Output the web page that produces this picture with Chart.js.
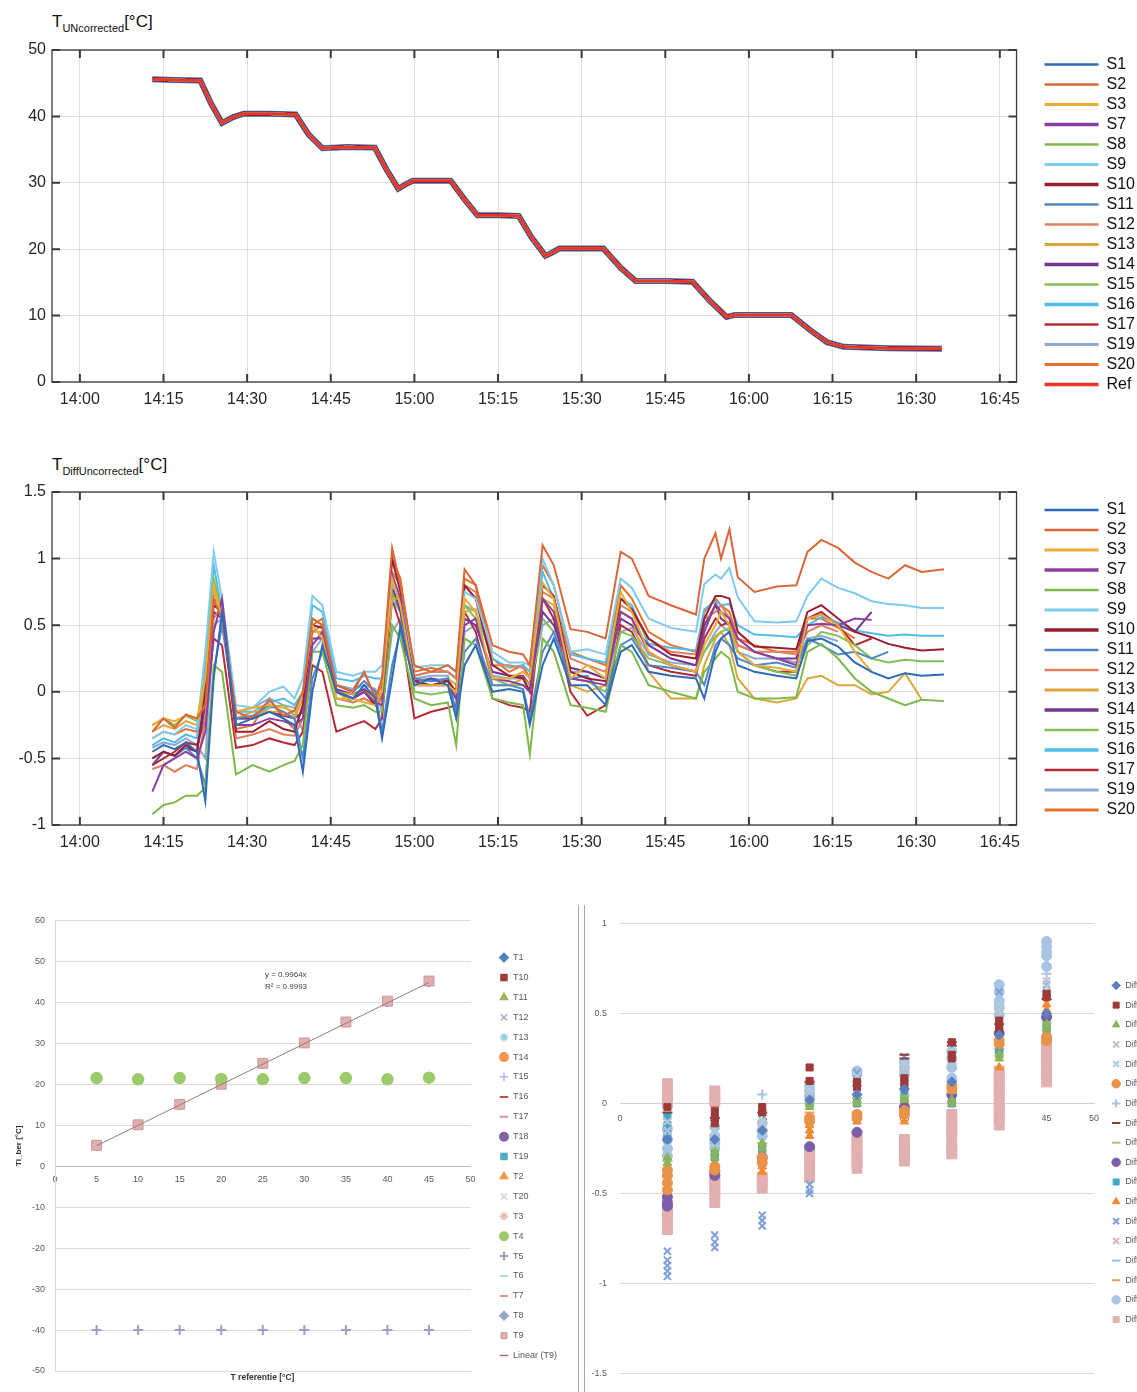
<!DOCTYPE html>
<html>
<head>
<meta charset="utf-8">
<title>Sensor calibration</title>
<script src="https://cdn.jsdelivr.net/npm/chart.js@4.4.1/dist/chart.umd.min.js"></script>
<style>
  html, body { margin: 0; padding: 0; background: #fff; }
  body { width: 1137px; height: 1392px; overflow: hidden; position: relative; font-family: "Liberation Sans", Arial, sans-serif; }
  canvas { position: absolute; }
  .ttl { position: absolute; font-size: 17px; color: #111; white-space: nowrap; line-height: 20px; }
  .ttl sub { font-size: 11px; vertical-align: -5px; line-height: 0; }
  .sep { position: absolute; top: 905px; width: 1px; height: 487px; background: #a8a8a8; }
  .note { position: absolute; font-size: 8px; color: #404040; line-height: 12px; white-space: nowrap; }
  .axt { position: absolute; font-size: 8.5px; font-weight: bold; color: #333; text-align: center; }
</style>
</head>
<body>
<div class="ttl" style="left:52px;top:12px">T<sub>UNcorrected</sub>[°C]</div>
<canvas id="tempChart" width="1137" height="420" style="left:0;top:0"></canvas>
<div class="ttl" style="left:52px;top:455px">T<sub>DiffUncorrected</sub>[°C]</div>
<canvas id="diffChart" width="1137" height="420" style="left:0;top:440px"></canvas>
<canvas id="calChart" width="578" height="487" style="left:0;top:905px"></canvas>
<div class="sep" style="left:578px"></div>
<div class="sep" style="left:584px"></div>
<canvas id="devChart" width="576" height="487" style="left:588px;top:905px"></canvas>
<div class="note" style="left:265px;top:969px">y = 0.9964x<br>R² = 0.9993</div>
<div class="axt" style="left:195px;top:1372px;width:135px">T referentie [°C]</div>

<script>
// time axis (minutes after 14:00)
const timeTickValues = [0, 15, 30, 45, 60, 75, 90, 105, 120, 135, 150, 165];
const timeTickLabels = ['14:00', '14:15', '14:30', '14:45', '15:00', '15:15', '15:30', '15:45', '16:00', '16:15', '16:30', '16:45'];

// top chart: bath temperature path (all sensors lie on it)
const refTimes = [13, 17, 21.6, 23.5, 25.5, 27.5, 29.4, 34, 38.7, 41, 43.5, 48, 52.9, 55, 57.1, 58.5, 59.7, 66.5, 69, 71.3,
  75, 78.7, 81, 83.5, 84.5, 86, 93.9, 97, 99.7, 105, 109.9, 113, 116, 117.5, 127.6, 131, 134, 137, 145, 154.6];
const refTemps = [45.6, 45.5, 45.4, 42, 39, 39.9, 40.4, 40.4, 40.3, 37.3, 35.2, 35.4, 35.3, 32, 29.1, 29.8, 30.3, 30.3, 27.5, 25.1,
  25.1, 25, 21.8, 19, 19.4, 20.1, 20.1, 17.2, 15.2, 15.2, 15.1, 12.2, 9.8, 10.1, 10.1, 7.8, 6.0, 5.3, 5.1, 5.0];

const sensorNames = ['S1', 'S2', 'S3', 'S7', 'S8', 'S9', 'S10', 'S11', 'S12', 'S13', 'S14', 'S15', 'S16', 'S17', 'S19', 'S20'];
const sensorColors = ['#2e6bb8', '#d9673a', '#e9ac35', '#8a3fa0', '#7db84a', '#7fcbef', '#962030', '#4f87c9',
  '#e0805e', '#dda63c', '#74378f', '#86be58', '#4fbdea', '#b42a35', '#8ea9cf', '#e3732c'];
const legendWidths = [2.5, 2.5, 3, 3.5, 2.5, 3, 3.5, 2.5, 2.5, 3, 3.5, 2.5, 3.5, 2.5, 3, 3, 3.5];

// middle chart: difference sensor - reference
const diffTimes = [13, 15, 17, 19, 21, 22.5, 24, 25.5, 28, 31, 34, 36.5, 38.5, 40, 41.7, 43.5, 46, 49, 51, 53,
  54.2, 56, 57.5, 60, 63, 66, 67.5, 69, 71, 74, 77, 79.5, 80.7, 83, 85, 88, 91, 94.3, 97, 99,
  102, 106, 110.5, 112, 114, 115, 116.5, 118, 121, 125, 128.5, 130.5, 133, 136, 139, 142, 145, 148, 151, 155];

const diffS1 = [-0.45, -0.4, -0.43, -0.38, -0.45, -0.82, 0.1, 0.6, -0.25, -0.2, -0.15, -0.2, -0.25, -0.6, 0.0, 0.35, 0.0, -0.05, 0.05, -0.05,
  -0.35, 0.1, 0.5, 0.05, 0.1, 0.05, -0.2, 0.2, 0.35, 0.0, 0.02, 0.0, -0.25, 0.2, 0.4, 0.05, 0.05, -0.1, 0.3, 0.35,
  0.15, 0.12, 0.1, -0.05, 0.3, 0.4, 0.45, 0.2, 0.15, 0.12, 0.1, 0.38, 0.4, 0.34, 0.22, 0.15, 0.1, 0.14, 0.12, 0.13];
const diffS2 = [-0.3, -0.2, -0.27, -0.17, -0.2, -0.1, 0.7, 0.55, -0.15, -0.2, -0.06, -0.18, -0.14, 0.0, 0.55, 0.5, 0.05, 0.0, 0.15, -0.05,
  0.1, 1.08, 0.8, 0.2, 0.15, 0.2, 0.15, 0.92, 0.8, 0.35, 0.3, 0.28, 0.2, 1.1, 0.95, 0.47, 0.45, 0.4, 1.05, 1.0,
  0.72, 0.65, 0.58, 1.0, 1.19, 1.0, 1.22, 0.86, 0.75, 0.79, 0.8, 1.05, 1.14, 1.08, 0.97, 0.9, 0.85, 0.95, 0.9, 0.92];
const diffS3 = [-0.25, -0.2, -0.22, -0.18, -0.2, 0.1, 0.8, 0.55, -0.15, -0.12, -0.1, -0.12, -0.15, 0.0, 0.5, 0.4, -0.05, -0.05, -0.08, -0.1,
  0.0, 0.85, 0.65, 0.05, 0.05, 0.05, 0.0, 0.7, 0.6, 0.1, 0.1, 0.15, 0.1, 0.82, 0.7, 0.1, 0.2, 0.1, 0.75, 0.6,
  0.3, 0.2, 0.15, 0.35, 0.5, 0.6, 0.5, 0.3, 0.2, 0.18, 0.15, 0.55, 0.58, 0.5, 0.3, 0.15, null, null, null, null];
const diffS7 = [-0.75, -0.55, -0.5, -0.45, -0.5, -0.3, 0.45, 0.7, -0.25, -0.25, -0.2, -0.22, -0.25, -0.2, 0.35, 0.45, 0.0, -0.05, 0.0, -0.08,
  -0.1, 0.88, 0.7, 0.05, 0.05, 0.05, -0.05, 0.5, 0.55, 0.1, 0.08, 0.05, 0.0, 0.7, 0.6, 0.1, 0.08, 0.05, 0.6, 0.55,
  0.3, 0.2, 0.15, 0.45, 0.66, 0.6, 0.55, 0.4, 0.3, 0.25, 0.2, 0.5, 0.51, 0.5, 0.55, 0.54, null, null, null, null];
const diffS8 = [-0.92, -0.85, -0.83, -0.78, -0.78, -0.72, 0.2, 0.15, -0.62, -0.55, -0.6, -0.55, -0.52, -0.4, 0.3, 0.3, -0.1, -0.12, -0.1, -0.15,
  -0.15, 0.5, 0.4, -0.05, -0.1, -0.08, -0.4, 0.4, 0.35, -0.05, -0.08, -0.1, -0.47, 0.4, 0.3, -0.1, -0.12, -0.15, 0.35, 0.3,
  0.05, 0.0, -0.05, 0.15, 0.25, 0.3, 0.25, 0.0, -0.05, -0.05, -0.04, 0.3, 0.36, 0.25, 0.1, 0.0, -0.05, -0.1, -0.06, -0.07];
const diffS9 = [-0.35, -0.3, -0.32, -0.25, -0.28, 0.3, 1.05, 0.7, -0.1, -0.12, 0.0, 0.04, -0.05, 0.1, 0.72, 0.65, 0.15, 0.12, 0.15, 0.15,
  0.2, 0.8, 0.7, 0.18, 0.2, 0.2, 0.15, 0.75, 0.7, 0.3, 0.22, 0.22, 0.2, 1.0, 0.8, 0.3, 0.32, 0.28, 0.85, 0.78,
  0.55, 0.48, 0.45, 0.81, 0.88, 0.85, 0.93, 0.71, 0.53, 0.52, 0.53, 0.72, 0.85, 0.78, 0.74, 0.68, 0.66, 0.65, 0.63, 0.63];
const diffS10 = [-0.5, -0.45, -0.48, -0.4, -0.45, 0.0, 0.65, 0.6, -0.3, -0.3, -0.22, -0.28, -0.3, -0.1, 0.5, 0.48, 0.0, -0.05, 0.0, -0.1,
  0.0, 1.0, 0.75, 0.08, 0.05, 0.08, 0.0, 0.8, 0.7, 0.2, 0.12, 0.1, 0.0, 0.8, 0.72, 0.15, 0.1, 0.08, 0.7, 0.62,
  0.4, 0.28, 0.25, 0.55, 0.72, 0.72, 0.7, 0.45, 0.34, 0.33, 0.32, 0.6, 0.65, 0.55, 0.45, 0.41, 0.36, 0.33, 0.31, 0.32];
const diffS11 = [-0.5, -0.45, -0.48, -0.42, -0.5, -0.7, 0.15, 0.5, -0.2, -0.18, -0.1, -0.15, -0.2, -0.5, 0.1, 0.3, 0.05, 0.0, 0.08, 0.0,
  -0.3, 0.2, 0.45, 0.1, 0.08, 0.1, -0.15, 0.3, 0.4, 0.05, 0.05, 0.02, -0.2, 0.3, 0.45, 0.1, 0.12, -0.05, 0.35, 0.4,
  0.2, 0.18, 0.15, 0.05, 0.35, 0.4, 0.35, 0.25, 0.2, 0.22, 0.18, 0.4, 0.35, 0.28, 0.3, 0.25, 0.3, null, null, null];
const diffS12 = [-0.58, -0.55, -0.6, -0.55, -0.58, -0.2, 0.55, 0.65, -0.35, -0.32, -0.28, -0.32, -0.33, -0.2, 0.45, 0.5, -0.05, -0.08, -0.05, -0.1,
  -0.05, 0.9, 0.8, 0.12, 0.15, 0.15, 0.1, 0.8, 0.75, 0.2, 0.2, 0.18, 0.1, 0.75, 0.7, 0.25, 0.2, 0.15, 0.65, 0.6,
  0.4, 0.3, 0.28, 0.55, 0.6, 0.65, 0.55, 0.35, 0.3, 0.3, 0.28, 0.45, 0.5, 0.45, null, null, null, null, null, null];
const diffS13 = [-0.3, -0.25, -0.28, -0.22, -0.25, 0.0, 0.75, 0.6, -0.2, -0.15, -0.15, -0.15, -0.2, -0.05, 0.45, 0.45, 0.0, -0.02, 0.0, -0.05,
  0.0, 0.7, 0.7, 0.1, 0.08, 0.1, 0.05, 0.6, 0.62, 0.05, 0.05, 0.1, 0.05, 0.7, 0.65, 0.05, 0.0, 0.05, 0.6, 0.55,
  0.15, -0.05, -0.05, 0.2, 0.4, 0.45, 0.35, 0.1, -0.05, -0.08, -0.05, 0.1, 0.12, 0.05, 0.05, -0.02, 0.0, 0.14, -0.06, null];
const diffS14 = [-0.55, -0.45, -0.48, -0.42, -0.45, -0.1, 0.6, 0.55, -0.2, -0.2, -0.15, -0.18, -0.2, -0.15, 0.4, 0.4, 0.02, -0.02, 0.02, -0.05,
  -0.05, 0.8, 0.6, 0.08, 0.1, 0.08, 0.0, 0.55, 0.5, 0.15, 0.12, 0.12, 0.05, 0.6, 0.5, 0.18, 0.15, 0.1, 0.55, 0.5,
  0.35, 0.25, 0.2, 0.5, 0.65, 0.55, 0.5, 0.35, 0.3, 0.25, 0.25, 0.55, 0.58, 0.5, 0.45, 0.6, null, null, null, null];
const diffS15 = [-0.25, -0.2, -0.25, -0.18, -0.22, 0.1, 0.85, 0.6, -0.2, -0.2, -0.12, -0.1, -0.18, -0.05, 0.55, 0.5, 0.0, -0.08, -0.05, -0.1,
  -0.05, 0.75, 0.6, 0.0, -0.02, 0.0, -0.05, 0.65, 0.55, 0.1, 0.05, 0.05, 0.0, 0.55, 0.45, 0.1, 0.08, 0.0, 0.45, 0.42,
  0.25, 0.2, 0.15, 0.3, 0.42, 0.45, 0.48, 0.3, 0.2, 0.15, 0.12, 0.35, 0.45, 0.42, 0.35, 0.25, 0.22, 0.24, 0.23, 0.23];
const diffS16 = [-0.4, -0.35, -0.38, -0.32, -0.35, 0.2, 0.95, 0.6, -0.15, -0.15, -0.08, -0.05, -0.1, 0.0, 0.65, 0.6, 0.1, 0.08, 0.12, 0.1,
  0.1, 0.7, 0.6, 0.12, 0.15, 0.15, 0.1, 0.65, 0.6, 0.25, 0.18, 0.2, 0.15, 0.9, 0.7, 0.28, 0.25, 0.22, 0.7, 0.65,
  0.36, 0.33, 0.31, 0.62, 0.68, 0.65, 0.66, 0.5, 0.43, 0.42, 0.41, 0.5, 0.56, 0.52, 0.46, 0.44, 0.42, 0.43, 0.42, 0.42];
const diffS17 = [-0.55, -0.5, -0.45, -0.38, -0.4, -0.2, 0.4, 0.35, -0.42, -0.4, -0.35, -0.38, -0.4, -0.3, 0.2, 0.15, -0.3, -0.25, -0.22, -0.28,
  -0.2, 0.7, 0.5, -0.2, -0.15, -0.12, -0.1, 0.6, 0.45, -0.05, -0.1, -0.12, -0.15, 0.7, 0.55, 0.0, -0.18, -0.1, 0.5, 0.45,
  0.2, 0.15, 0.12, 0.4, 0.55, 0.5, 0.52, 0.3, 0.2, 0.15, 0.15, 0.55, 0.6, 0.5, 0.35, 0.4, null, null, null, null];
const diffS19 = [-0.42, -0.38, -0.4, -0.35, -0.4, -0.5, 0.5, 0.55, -0.15, -0.12, -0.05, -0.1, -0.12, -0.3, 0.3, 0.4, 0.05, 0.02, 0.05, 0.02,
  -0.15, 0.45, 0.55, 0.1, 0.12, 0.12, -0.05, 0.45, 0.5, 0.12, 0.1, 0.1, 0.0, 0.5, 0.55, 0.15, 0.15, 0.1, 0.45, 0.48,
  0.28, 0.22, 0.2, 0.3, 0.45, 0.5, 0.45, 0.3, 0.25, 0.25, 0.22, 0.4, 0.42, 0.38, null, null, null, null, null, null];
const diffS20 = [-0.35, -0.3, -0.32, -0.28, -0.3, 0.05, 0.7, 0.65, -0.28, -0.25, -0.05, -0.2, -0.28, -0.1, 0.5, 0.55, 0.05, 0.02, 0.15, -0.05,
  0.05, 1.0, 0.85, 0.15, 0.18, 0.15, 0.1, 0.85, 0.8, 0.25, 0.15, 0.2, 0.1, 0.95, 0.8, 0.3, 0.25, 0.2, 0.8, 0.7,
  0.45, 0.35, 0.3, 0.6, 0.7, 0.65, 0.6, 0.4, 0.35, 0.3, 0.3, 0.55, 0.55, 0.48, 0.4, null, null, null, null, null];
const diffSeries = [diffS1, diffS2, diffS3, diffS7, diffS8, diffS9, diffS10, diffS11, diffS12, diffS13, diffS14, diffS15, diffS16, diffS17, diffS19, diffS20];

// bottom left: sensor reading vs reference
const calRef = [5, 10, 15, 20, 25, 30, 35, 40, 45];
const calT9 = [5.1, 10.1, 15.1, 20.0, 25.1, 30.1, 35.2, 40.3, 45.2];
const calOthers = [5.0, 10.0, 15.0, 20.0, 25.0, 30.1, 35.1, 40.1, 45.0];
const calT4 = [21.5, 21.2, 21.5, 21.3, 21.2, 21.5, 21.5, 21.2, 21.6];
const calT5 = [-40, -40, -40, -40, -40, -40, -40, -40, -40];
const trendX = [5, 45];
const trendY = [4.98, 44.84];
const calNames = ['T1', 'T10', 'T11', 'T12', 'T13', 'T14', 'T15', 'T16', 'T17', 'T18', 'T19', 'T2', 'T20', 'T3', 'T4', 'T5', 'T6', 'T7', 'T8', 'T9'];
const calStyles = ['rectRot', 'rect', 'triangle', 'crossRot', 'star', 'circle', 'cross', 'line', 'line', 'circle',
  'rect', 'triangle', 'crossRot', 'star', 'circle', 'cross', 'line', 'line', 'rectRot', 'rect'];
const calColors = ['#4f81bd', '#a33b38', '#9bbb59', '#b3a2c7', '#93cddd', '#f79646', '#a6bddb', '#c0504d', '#d99694', '#8064a2',
  '#4bacc6', '#f79646', '#c6d9f1', '#e6b9b8', '#9bcb6a', '#a898c8', '#b7dee8', '#e6998f', '#95a8c8', '#e0afaf'];

// bottom right: deviation per set point, one list of samples per column
const devCols = [5, 10, 15, 20, 25, 30, 35, 40, 45];
const devT1 = [[-0.2], [-0.2], [-0.15], [0.02], [0.05], [0.08], [0.12], [0.38], [0.5]];
const devT10 = [[-0.02], [-0.04, -0.08, -0.11], [-0.02, -0.05], [0.2, 0.125], [0.09, 0.12], [0.14, 0.12, 0.09], [0.34, 0.27, 0.25], [0.46, 0.43, 0.4], [0.61, 0.59]];
const devT11 = [[-0.3, -0.33], [-0.27, -0.3], [-0.22, -0.25], [-0.02, 0.0], [0.02, 0.0], [0.03, 0.02], [0.02, 0.0], [0.25, 0.27], [0.42, 0.44]];
const devT12 = [[-0.1, -0.15], [-0.1], [-0.12], [0.05], [0.1], [0.2], [0.25], [0.5], [0.68]];
const devT13 = [[-0.18, -0.22], [-0.15, -0.18], [-0.1], [0.08], [0.15], [0.22], [0.28, 0.3], [0.52, 0.55], [0.65]];
const devT14 = [[-0.37, -0.4, -0.44, -0.48], [-0.35, -0.37], [-0.3, -0.33], [-0.08, -0.1], [-0.06, -0.08], [-0.04, -0.06], [0.08, 0.1], [0.33, 0.35], [0.35, 0.37]];
const devT15 = [[-0.25], [-0.2], [0.05], [0.05], [0.1], [0.18], [0.22], [0.5], [0.72]];
const devT16 = [[-0.05], [-0.08], [-0.05], [0.12], [0.1], [0.27, 0.25], [0.34, 0.32], [0.44], [0.58]];
const devT17 = [[-0.32], [-0.25], [-0.22], [0.0], [0.03], [0.04], [0.06], [0.27], [0.45]];
const devT18 = [[-0.52, -0.55, -0.57], [-0.38, -0.4], [-0.3], [-0.24], [-0.16], [-0.02], [0.05], [0.39], [0.48]];
const devT19 = [[-0.07, -0.12, -0.17, -0.2], [-0.28, -0.3], [-0.25, -0.27], [0.0, 0.02], [0.03, 0.0], [0.05, 0.02], [0.0, 0.02], [0.28, 0.3], [0.4, 0.43, 0.45]];
const devT2 = [[-0.55, -0.5], [-0.33], [-0.38, -0.35], [-0.18, -0.15, -0.12], [-0.1], [-0.1], [0.1], [0.2], [0.55, 0.52]];
const devT20 = [[-0.82, -0.87, -0.9, -0.93, -0.96], [-0.73, -0.77, -0.8], [-0.62, -0.65, -0.68], [-0.45, -0.48, -0.5], [0.17], [0.26], [0.3], [0.62], [0.66]];
const devT3 = [[-0.6], [-0.45], [-0.42], [-0.3], [-0.25], [-0.2], [-0.18], [0.0], [0.2]];
const devT6 = [[-0.25], [-0.22], [-0.15], [0.05], [0.12], [0.18], [0.2], [0.55], [0.62]];
const devT7 = [[-0.45], [-0.35], [-0.32], [-0.05], [-0.05], [-0.08], [0.06], [0.3], [0.36]];
const devT8 = [[-0.14, -0.2, -0.25, -0.29], [-0.13, -0.18, -0.22, -0.25], [-0.11, -0.15, -0.18], [0.1, 0.07, 0.04], [0.18, 0.16],
  [0.23, 0.2, 0.16], [0.29, 0.25, 0.2, 0.14], [0.66, 0.62, 0.57, 0.53, 0.49], [0.9, 0.87, 0.84, 0.82, 0.76]];
const devT9 = [[0.11, 0.08, 0.05, 0.02, 0.0, -0.58, -0.61, -0.64, -0.67, -0.7], [0.07, 0.04, 0.01, -0.42, -0.45, -0.48, -0.51, -0.55],
  [-0.41, -0.44, -0.47], [-0.26, -0.29, -0.32, -0.35, -0.38, -0.41], [-0.18, -0.21, -0.24, -0.27, -0.3, -0.33, -0.36],
  [-0.2, -0.23, -0.26, -0.29, -0.32], [-0.06, -0.09, -0.12, -0.15, -0.18, -0.23, -0.26, -0.28],
  [0.18, 0.15, 0.12, 0.09, 0.06, 0.03, 0.0, -0.03, -0.06, -0.09, -0.12], [0.32, 0.29, 0.26, 0.23, 0.2, 0.17, 0.14, 0.12]];
const devNames = ['DiffT1', 'DiffT10', 'DiffT11', 'DiffT12', 'DiffT13', 'DiffT14', 'DiffT15', 'DiffT16', 'DiffT17',
  'DiffT18', 'DiffT19', 'DiffT2', 'DiffT20', 'DiffT3', 'DiffT6', 'DiffT7', 'DiffT8', 'DiffT9'];
const devSeries = [devT1, devT10, devT11, devT12, devT13, devT14, devT15, devT16, devT17, devT18, devT19, devT2, devT20, devT3, devT6, devT7, devT8, devT9];
const devStyles = ['rectRot', 'rect', 'triangle', 'crossRot', 'crossRot', 'circle', 'cross', 'line', 'line',
  'circle', 'rect', 'triangle', 'crossRot', 'crossRot', 'line', 'line', 'circle', 'rect'];
const devColors = ['#5b7fc0', '#9e3a3a', '#8db45a', '#c0c0d4', '#a9cfe0', '#e8924a', '#a8c4e0', '#8a3d3d', '#a8c878',
  '#7d5da8', '#3fa8c8', '#f08a30', '#7f9fd8', '#e8b0b0', '#a0c0e0', '#f0a060', '#a8c4e4', '#e2b0b0'];

Chart.defaults.font.family = "'Liberation Sans', Arial, sans-serif";
Chart.defaults.animation = false;
Chart.defaults.events = [];

const plainNumber = v => String(Number(v.toFixed(2)));

// box + inward ticks like the matlab figures
const matlabFrame = {
  id: 'matlabFrame',
  afterDatasetsDraw(chart) {
    const {ctx, chartArea: a} = chart;
    const xs = chart.scales.x, ys = chart.scales.y;
    ctx.save();
    ctx.strokeStyle = '#3a3a3a';
    ctx.lineWidth = 1.3;
    ctx.strokeRect(a.left, a.top, a.right - a.left, a.bottom - a.top);
    ctx.lineWidth = 2;
    ctx.beginPath();
    xs.ticks.forEach(t => {
      const px = xs.getPixelForValue(t.value);
      ctx.moveTo(px, a.bottom); ctx.lineTo(px, a.bottom - 8);
      ctx.moveTo(px, a.top); ctx.lineTo(px, a.top + 8);
    });
    ys.ticks.forEach(t => {
      const py = ys.getPixelForValue(t.value);
      ctx.moveTo(a.left, py); ctx.lineTo(a.left + 8, py);
      ctx.moveTo(a.right, py); ctx.lineTo(a.right - 8, py);
    });
    ctx.stroke();
    ctx.restore();
  }
};

function matlabScales(yMin, yMax, yStep) {
  return {
    x: {
      type: 'linear', min: -5, max: 168,
      afterBuildTicks: s => { s.ticks = timeTickValues.map(v => ({value: v})); },
      afterFit: s => { s.height = 30; },
      grid: {color: '#dedede', drawTicks: false},
      border: {display: false},
      ticks: {padding: 8, color: '#262626', font: {size: 16}, maxRotation: 0, autoSkip: false,
        callback: (v, i) => timeTickLabels[i]}
    },
    y: {
      min: yMin, max: yMax,
      afterFit: s => { s.width = 52; },
      grid: {color: '#dedede', drawTicks: false},
      border: {display: false},
      ticks: {stepSize: yStep, padding: 6, color: '#262626', font: {size: 16}, callback: plainNumber}
    },
    gap: {
      type: 'linear', position: 'right', display: true,
      afterFit: s => { s.width = 24; },
      grid: {display: false}, border: {display: false}, ticks: {display: false}
    }
  };
}

function matlabLegend(colors, shift) {
  return {
    position: 'right', align: 'start',
    title: {display: true, text: '', font: {size: shift}, padding: 0},
    labels: {
      usePointStyle: true, pointStyle: 'line', pointStyleWidth: 54,
      padding: 4, color: '#111', font: {size: 16},
      generateLabels(chart) {
        const items = Chart.defaults.plugins.legend.labels.generateLabels(chart);
        items.sort((a, b) => a.datasetIndex - b.datasetIndex);
        items.forEach(it => {
          it.pointStyle = 'line';
          it.strokeStyle = colors[it.datasetIndex];
          it.lineWidth = legendWidths[it.datasetIndex];
        });
        return items;
      }
    }
  };
}

// chart 1
const tempNames = sensorNames.concat(['Ref']);
const tempColors = sensorColors.concat(['#e8352a']);
const tempDatasets = tempNames.map((name, i) => {
  let width = 2.5, order = 0;
  if (name === 'S1') { width = 6; order = 5; }
  if (name === 'S10') { width = 4.5; order = 4; }
  if (name === 'Ref') { width = 2.5; order = -1; }
  return {
    label: name,
    data: refTimes.map((t, k) => ({x: t, y: refTemps[k]})),
    borderColor: tempColors[i], backgroundColor: tempColors[i],
    borderWidth: width, order: order, pointRadius: 0, tension: 0,
    xAxisID: 'x', yAxisID: 'y'
  };
});

new Chart(document.getElementById('tempChart'), {
  type: 'line',
  data: {datasets: tempDatasets},
  options: {
    responsive: false,
    layout: {padding: {top: 50, bottom: 8, left: 0, right: -8}},
    scales: matlabScales(0, 50, 10),
    plugins: {legend: matlabLegend(tempColors, 2), tooltip: {enabled: false}}
  },
  plugins: [matlabFrame]
});

// chart 2
const diffDatasets = sensorNames.map((name, i) => ({
  label: name,
  data: diffTimes.map((t, k) => ({x: t, y: diffSeries[i][k]})),
  borderColor: sensorColors[i], backgroundColor: sensorColors[i],
  borderWidth: 2, pointRadius: 0, tension: 0, spanGaps: false,
  xAxisID: 'x', yAxisID: 'y'
}));

new Chart(document.getElementById('diffChart'), {
  type: 'line',
  data: {datasets: diffDatasets},
  options: {
    responsive: false,
    layout: {padding: {top: 52, bottom: 5, left: 0, right: -8}},
    scales: matlabScales(-1, 1.5, 0.5),
    plugins: {legend: matlabLegend(sensorColors, 5), tooltip: {enabled: false}}
  },
  plugins: [matlabFrame]
});

// chart 3
const calDatasets = calNames.map((name, i) => {
  let vals = calOthers, radius = 4, order = 0, border = 1.5;
  if (name === 'T9') { vals = calT9; radius = 7; order = -1; border = 1; }
  if (name === 'T4') { vals = calT4; radius = 5.5; order = -1; }
  if (name === 'T5') { vals = calT5; radius = 5; order = -1; border = 2; }
  return {
    label: name,
    data: calRef.map((x, k) => ({x: x, y: vals[k]})),
    pointStyle: calStyles[i], pointRadius: radius,
    backgroundColor: calColors[i],
    borderColor: name === 'T9' ? '#c99a9a' : calColors[i],
    borderWidth: calStyles[i] === 'line' ? 2 : border,
    order: order
  };
});
calDatasets.push({
  label: 'Linear (T9)',
  data: trendX.map((x, k) => ({x: x, y: trendY[k]})),
  showLine: true, borderColor: '#9c7878', backgroundColor: '#9c7878', borderWidth: 1,
  pointRadius: 0, pointStyle: 'line', pointBorderWidth: 1.5, order: -2
});

const excelTicks = {color: '#595959', font: {size: 9}};

new Chart(document.getElementById('calChart'), {
  type: 'scatter',
  data: {datasets: calDatasets},
  options: {
    responsive: false,
    layout: {padding: {top: 15, bottom: 21, left: 0, right: 11}},
    scales: {
      x: {
        type: 'linear', position: {y: 0}, min: 0, max: 50,
        grid: {drawOnChartArea: false, drawTicks: false},
        border: {color: '#bfbfbf'},
        ticks: Object.assign({stepSize: 5, padding: 8}, excelTicks)
      },
      y: {
        min: -50, max: 60,
        afterFit: s => { s.width = 55; },
        grid: {color: '#d9d9d9', drawTicks: false},
        border: {color: '#d9d9d9'},
        ticks: Object.assign({stepSize: 10, padding: 10}, excelTicks),
        title: {display: true, text: 'Ti_ber [°C]', color: '#333', font: {size: 8, weight: 'bold'}, padding: {top: 14, bottom: 0}}
      },
      gap: {
        type: 'linear', position: 'right', display: true,
        afterFit: s => { s.width = 18; },
        grid: {display: false}, border: {display: false}, ticks: {display: false}
      }
    },
    plugins: {
      legend: {
        position: 'right', align: 'end',
        labels: {usePointStyle: true, boxHeight: 6, padding: 10.9, color: '#595959', font: {size: 9},
          sort: (a, b) => a.datasetIndex - b.datasetIndex}
      },
      tooltip: {enabled: false}
    }
  }
});

// chart 4
const devDatasets = devNames.map((name, i) => ({
  label: name,
  data: devSeries[i].flatMap((col, c) => col.map(v => ({x: devCols[c], y: v}))),
  pointStyle: devStyles[i],
  pointRadius: name === 'DiffT9' ? 7 : 5,
  backgroundColor: devColors[i], borderColor: devColors[i],
  borderWidth: devStyles[i] === 'line' || devStyles[i].startsWith('cross') ? 2 : 1,
  order: name === 'DiffT9' ? 5 : 0
}));

new Chart(document.getElementById('devChart'), {
  type: 'scatter',
  data: {datasets: devDatasets},
  options: {
    responsive: false,
    layout: {padding: {top: 12, bottom: 4, left: 0, right: 0}},
    scales: {
      x: {
        type: 'linear', position: {y: 0}, min: 0, max: 50,
        grid: {drawOnChartArea: false, drawTicks: false},
        border: {color: '#d0d0d0'},
        ticks: Object.assign({stepSize: 5, padding: 10}, excelTicks)
      },
      y: {
        min: -1.5, max: 1,
        afterFit: s => { s.width = 32; },
        grid: {color: '#d9d9d9', drawTicks: false},
        border: {display: false},
        ticks: Object.assign({stepSize: 0.5, padding: 13, callback: plainNumber}, excelTicks)
      },
      gap: {
        type: 'linear', position: 'right', display: true,
        afterFit: s => { s.width = 7; },
        grid: {display: false}, border: {display: false}, ticks: {display: false}
      }
    },
    plugins: {
      legend: {
        position: 'right', align: 'center',
        labels: {usePointStyle: true, boxHeight: 6, padding: 10.65, color: '#595959', font: {size: 9},
          sort: (a, b) => a.datasetIndex - b.datasetIndex}
      },
      tooltip: {enabled: false}
    }
  }
});
</script>
</body>
</html>
